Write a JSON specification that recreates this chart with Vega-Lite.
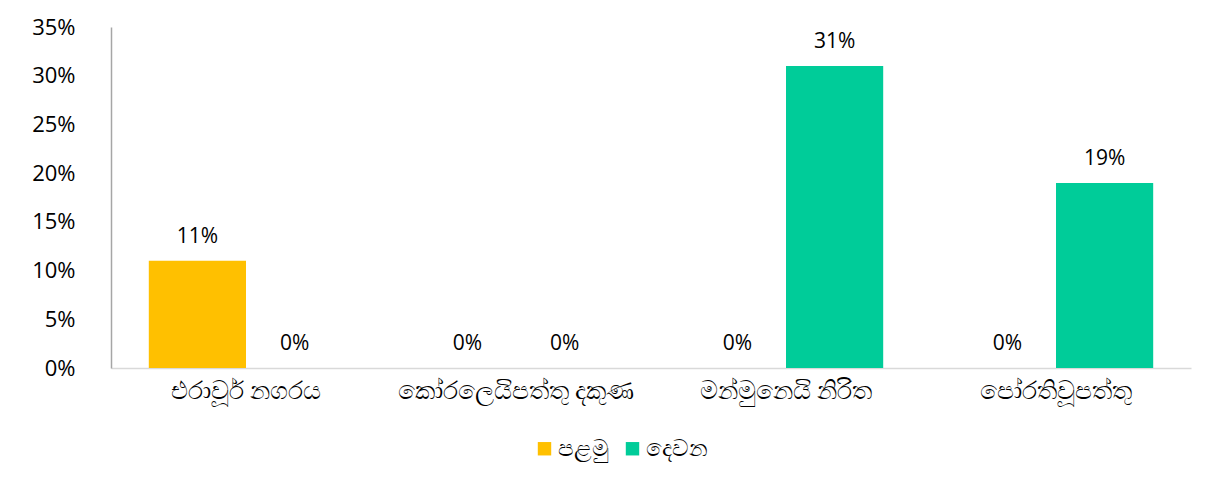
{
  "$schema": "https://vega.github.io/schema/vega-lite/v6.json",
  "width": 1080,
  "height": 341,
  "autosize": {"type": "none"},
  "padding": {"left": 111, "top": 27, "right": 34, "bottom": 111},
  "background": "white",
  "data": {"values": [
    {"area": "එරාවූර් නගරය", "series": "පළමු", "value": 0.11},
    {"area": "එරාවූර් නගරය", "series": "දෙවන", "value": 0.0},
    {"area": "කෝරලෙයිපත්තු දකුණ", "series": "පළමු", "value": 0.0},
    {"area": "කෝරලෙයිපත්තු දකුණ", "series": "දෙවන", "value": 0.0},
    {"area": "මන්මුනෙයි නිරිත", "series": "පළමු", "value": 0.0},
    {"area": "මන්මුනෙයි නිරිත", "series": "දෙවන", "value": 0.31},
    {"area": "පෝරතිවූපත්තු", "series": "පළමු", "value": 0.0},
    {"area": "පෝරතිවූපත්තු", "series": "දෙවන", "value": 0.19}
  ]},
  "encoding": {
    "x": {
      "field": "area", "type": "nominal", "sort": null,
      "scale": {"paddingInner": 0.28, "paddingOuter": 0.14},
      "axis": {"title": null, "labelAngle": 0, "ticks": false, "domainColor": "#d9d9d9", "domainWidth": 1.5, "labelFontSize": 25, "labelColor": "#000000", "labelPadding": 10, "labelLimit": 0}
    },
    "xOffset": {"field": "series", "type": "nominal", "sort": ["පළමු", "දෙවන"], "scale": {"paddingInner": 0, "paddingOuter": 0}},
    "y": {
      "field": "value", "type": "quantitative",
      "scale": {"domain": [0, 0.35], "nice": false},
      "axis": {"title": null, "format": ".0%", "values": [0, 0.05, 0.1, 0.15, 0.2, 0.25, 0.3, 0.35], "grid": false, "ticks": false, "domainColor": "#a6a6a6", "domainWidth": 1.5, "labelFontSize": 22, "labelColor": "#000000", "labelPadding": 36, "labelFont": "Open Sans"}
    }
  },
  "layer": [
    {
      "mark": {"type": "bar"},
      "encoding": {
        "color": {
          "field": "series", "type": "nominal", "sort": ["පළමු", "දෙවන"],
          "scale": {"domain": ["පළමු", "දෙවන"], "range": ["#ffc000", "#00cc99"]},
          "legend": {"title": null, "orient": "none", "legendX": 422, "legendY": 410, "direction": "horizontal", "symbolType": "square", "symbolSize": 180, "symbolStrokeWidth": 0, "labelFontSize": 23, "labelColor": "#000000", "columnPadding": 12, "labelOffset": 2}
        }
      }
    },
    {
      "mark": {"type": "text", "baseline": "bottom", "dy": -14, "fontSize": 21, "font": "Open Sans", "color": "#000000"},
      "encoding": {
        "text": {"field": "value", "type": "quantitative", "format": ".0%"}
      }
    }
  ],
  "config": {"view": {"stroke": null}}
}
